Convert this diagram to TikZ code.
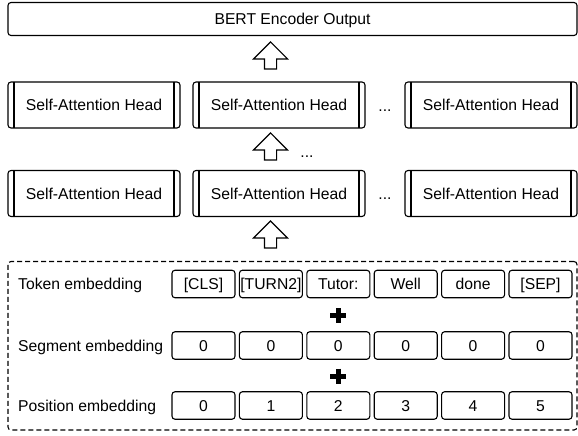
\documentclass[tikz,border=0pt]{standalone}
\usepackage{fontspec}
\setmainfont{Liberation Sans}
\usetikzlibrary{shapes.arrows,positioning}

\begin{document}
\begin{tikzpicture}[
    x=1pt, y=-1pt,
    every node/.style={font=\fontsize{15.7}{18}\selectfont},
    outbox/.style={draw, rounded corners=3pt, line width=1.1pt, minimum width=569pt, minimum height=33pt, text height=11pt, text depth=0pt},
    headbox/.style={draw, rounded corners=3pt, line width=1.1pt, minimum width=172pt, minimum height=46pt, inner sep=0pt, text height=11pt, text depth=0pt,
      path picture={\draw[line width=1.1pt] ([xshift=6pt]path picture bounding box.north west) -- ([xshift=6pt]path picture bounding box.south west)
        ([xshift=-6pt]path picture bounding box.north east) -- ([xshift=-6pt]path picture bounding box.south east);}},
    tokbox/.style={draw, rounded corners=3pt, line width=1.1pt, minimum width=63pt, minimum height=27.5pt, inner sep=0pt, text height=11pt, text depth=0pt},
    rowlabel/.style={anchor=west, inner sep=0pt, text height=11pt, text depth=0pt},
    embbox/.style={draw, dash pattern=on 5pt off 3pt, rounded corners=3pt, line width=1.1pt, minimum width=569pt, minimum height=168.5pt},
    uparrow/.style={draw, single arrow, shape border rotate=90, line width=1.1pt, minimum height=27pt, minimum width=33pt, inner sep=5.5pt, single arrow head extend=11pt},
    dotsmark/.style={anchor=base, inner sep=0pt},
    plusmark/.style={line width=5pt}
  ]
  \useasboundingbox (0,0) rectangle (578,436);

  % Output
  \node[outbox] (out) at (292.5,19) {BERT Encoder Output};

  % Attention heads
  \node[headbox] (headA) at (94,105) {Self-Attention Head};
  \node[headbox] (headB) at (279,105) {Self-Attention Head};
  \node[headbox] (headC) at (491,105) {Self-Attention Head};
  \node[headbox] (headD) at (94,193.5) {Self-Attention Head};
  \node[headbox] (headE) at (279,193.5) {Self-Attention Head};
  \node[headbox] (headF) at (491,193.5) {Self-Attention Head};
  \node[dotsmark] (dotsA) at (385,111) {...};
  \node[dotsmark] (dotsB) at (385,199.5) {...};
  \node[dotsmark] (dotsC) at (307,157) {...};

  % Block arrows
  \node[uparrow] (upA) at (270.5,58.5) {};
  \node[uparrow] (upB) at (270.5,149.5) {};
  \node[uparrow] (upC) at (270.5,237.5) {};

  % Embeddings
  \node[embbox] (emb) at (292.5,345.75) {};
  \node[rowlabel] (tokrow) at (18,284) {Token embedding};
  \node[rowlabel] (segrow) at (18,345.5) {Segment embedding};
  \node[rowlabel] (posrow) at (18,405.5) {Position embedding};

  \node[tokbox] (tokA) at (203.5,284) {[CLS]};
  \node[tokbox] (tokB) at (270.9,284) {[TURN2]};
  \node[tokbox] (tokC) at (338.3,284) {Tutor:};
  \node[tokbox] (tokD) at (405.7,284) {Well};
  \node[tokbox] (tokE) at (473.1,284) {done};
  \node[tokbox] (tokF) at (540.5,284) {[SEP]};

  \node[tokbox] (segA) at (203.5,345.5) {0};
  \node[tokbox] (segB) at (270.9,345.5) {0};
  \node[tokbox] (segC) at (338.3,345.5) {0};
  \node[tokbox] (segD) at (405.7,345.5) {0};
  \node[tokbox] (segE) at (473.1,345.5) {0};
  \node[tokbox] (segF) at (540.5,345.5) {0};

  \node[tokbox] (posA) at (203.5,405.5) {0};
  \node[tokbox] (posB) at (270.9,405.5) {1};
  \node[tokbox] (posC) at (338.3,405.5) {2};
  \node[tokbox] (posD) at (405.7,405.5) {3};
  \node[tokbox] (posE) at (473.1,405.5) {4};
  \node[tokbox] (posF) at (540.5,405.5) {5};

  % Plus signs
  \coordinate (plusA) at (338.3,315.5);
  \coordinate (plusB) at (338.3,376);
  \draw[plusmark] (plusA) +(-8,0) -- +(8,0) (plusA) +(0,-7.5) -- +(0,7.5);
  \draw[plusmark] (plusB) +(-8,0) -- +(8,0) (plusB) +(0,-7.5) -- +(0,7.5);
\end{tikzpicture}
\end{document}
